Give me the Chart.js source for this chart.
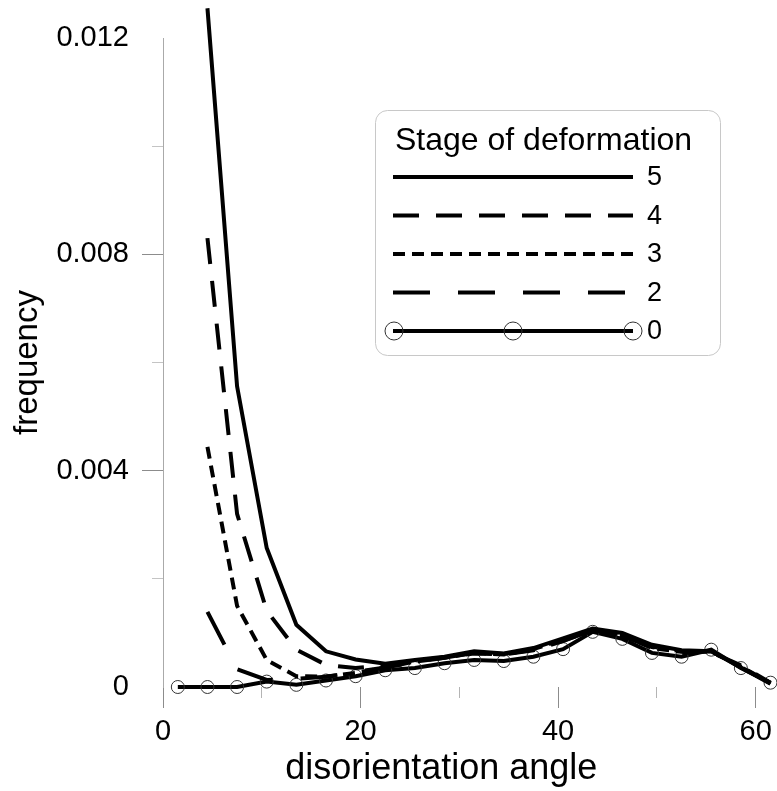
<!DOCTYPE html>
<html>
<head>
<meta charset="utf-8">
<script src="https://cdn.jsdelivr.net/npm/chart.js@4.4.0/dist/chart.umd.min.js"></script>
<style>
body { margin: 0; background: #fff; }
</style>
</head>
<body>
<canvas id="myChart" width="777" height="791"></canvas>
<script>
// disorientation angle bins
let angles = [1.5, 4.5, 7.5, 10.5, 13.5, 16.5, 19.5, 22.5, 25.5, 28.5, 31.5, 34.5, 37.5, 40.5, 43.5, 46.5, 49.5, 52.5, 55.5, 58.5, 61.5];

let stage5 = [null, 0.01255, 0.00556, 0.00257, 0.00115, 0.00066, 0.00051, 0.00043, 0.0005, 0.00056, 0.00066, 0.00062, 0.00072, 0.0009, 0.00108, 0.001, 0.00078, 0.00068, 0.00066, 0.00036, 0.00006];
let stage4 = [null, 0.0083, 0.0032, 0.00141, 0.00069, 0.00041, 0.00035, 0.0004, 0.00048, 0.00055, 0.00062, 0.0006, 0.00068, 0.00085, 0.00105, 0.00095, 0.00075, 0.00066, 0.00064, 0.0004, 0.00008];
let stage3 = [null, 0.00444, 0.0015, 0.0005, 0.0002, 0.00019, 0.00026, 0.00036, 0.00047, 0.00054, 0.00063, 0.0006, 0.0007, 0.00088, 0.00106, 0.00096, 0.00072, 0.00065, 0.00066, 0.00038, 0.00007];
let stage2 = [null, 0.00139, 0.00033, 0.00013, 0.00015, 0.00019, 0.00028, 0.00036, 0.00046, 0.00054, 0.00064, 0.00061, 0.00069, 0.00086, 0.00104, 0.00094, 0.00074, 0.00063, 0.00066, 0.00037, 0.00007];
let stage0 = [0, 0, 0, 0.0001, 0.00004, 0.00012, 0.0002, 0.00031, 0.00035, 0.00044, 0.0005, 0.00048, 0.00056, 0.0007, 0.00102, 0.00089, 0.00063, 0.00056, 0.00069, 0.00035, 0.00008];

let stageLabels = ['5', '4', '3', '2', '0'];
let legendTitle = 'Stage of deformation';

let fontFamily = '"Liberation Sans", Arial, sans-serif';
Chart.defaults.font.family = fontFamily;
Chart.defaults.color = '#000';

function points(values) {
    return angles.map((a, i) => ({ x: a, y: values[i] }));
}

function lineSet(label, values, dash) {
    return {
        label: label,
        data: points(values),
        borderColor: '#000',
        borderWidth: 4,
        borderDash: dash,
        borderCapStyle: 'butt',
        pointRadius: 0,
        pointHoverRadius: 0,
        tension: 0,
        clip: false
    };
}

// legend drawn inside the plot, like the original
let legendBox = {
    id: 'legendBox',
    afterDraw(chart) {
        let ctx = chart.ctx;
        ctx.save();
        ctx.beginPath();
        ctx.roundRect(375.5, 110.5, 345, 245, 12);
        ctx.fillStyle = '#fff';
        ctx.fill();
        ctx.strokeStyle = '#c8c8c8';
        ctx.lineWidth = 1;
        ctx.stroke();

        ctx.fillStyle = '#000';
        ctx.font = '32px ' + fontFamily;
        ctx.textBaseline = 'alphabetic';
        ctx.fillText(legendTitle, 395, 150);

        chart.data.datasets.forEach((ds, i) => {
            let y = 177 + i * 38.5;
            ctx.beginPath();
            ctx.setLineDash(ds.borderDash || []);
            ctx.lineWidth = ds.borderWidth;
            ctx.strokeStyle = ds.borderColor;
            ctx.lineCap = 'butt';
            ctx.moveTo(393, y);
            ctx.lineTo(633, y);
            ctx.stroke();
            ctx.setLineDash([]);
            if (ds.pointRadius > 0) {
                [394, 513, 633].forEach(cx => {
                    ctx.beginPath();
                    ctx.arc(cx, y, 9, 0, Math.PI * 2);
                    ctx.lineWidth = 1;
                    ctx.strokeStyle = ds.pointBorderColor;
                    ctx.stroke();
                });
            }
            ctx.fillStyle = '#000';
            ctx.font = '27px ' + fontFamily;
            ctx.textBaseline = 'middle';
            ctx.fillText(ds.label, 647, y + 1);
        });
        ctx.restore();
    }
};

let datasets = [
    lineSet(stageLabels[0], stage5, []),
    lineSet(stageLabels[1], stage4, [26, 17]),
    lineSet(stageLabels[2], stage3, [12, 7]),
    lineSet(stageLabels[3], stage2, [37, 28]),
    Object.assign(lineSet(stageLabels[4], stage0, []), {
        pointRadius: 6.5,
        pointBorderWidth: 1,
        pointBorderColor: '#333',
        pointBackgroundColor: 'rgba(0,0,0,0)'
    })
];

let myChart = document.getElementById('myChart').getContext('2d');

let chart = new Chart(myChart, {
    type: 'line',
    data: { datasets: datasets },
    options: {
        responsive: false,
        animation: false,
        devicePixelRatio: 1,
        layout: { padding: { top: 38, left: 0, right: 0, bottom: 0 } },
        plugins: {
            legend: { display: false },
            tooltip: { enabled: false }
        },
        scales: {
            x: {
                type: 'linear',
                min: 0,
                max: 61.4,
                border: { display: false },
                grid: {
                    drawOnChartArea: false,
                    tickLength: 21,
                    tickWidth: 1,
                    tickColor: c => (Math.round(c.tick.value) % 20 === 0 ? '#8c8c8c' : '#b4b4b4'),
                    tickBorderDash: c => (Math.round(c.tick.value) % 20 === 0 ? [] : [11, 50])
                },
                ticks: {
                    stepSize: 10,
                    includeBounds: false,
                    autoSkip: false,
                    maxRotation: 0,
                    padding: 7,
                    font: { size: 29 },
                    callback: v => (Math.round(v) % 20 === 0 ? String(Math.round(v)) : '')
                },
                title: {
                    display: true,
                    // trailing spaces nudge the centred title left, as in the original
                    text: 'disorientation angle\u00a0\u00a0\u00a0\u00a0\u00a0',
                    font: { size: 36 },
                    padding: { top: 0, bottom: 0 }
                },
                afterFit: s => { s.height = 104; s.paddingLeft = 0; s.paddingRight = 0; }
            },
            y: {
                min: 0,
                max: 0.012,
                border: { display: true, color: '#aaaaaa', width: 1 },
                grid: {
                    drawOnChartArea: false,
                    tickLength: 21,
                    tickWidth: 1,
                    tickColor: c => {
                        let k = Math.round(c.tick.value / 0.002);
                        if (k === 0 || k === 6) return 'rgba(0,0,0,0)';
                        return k % 2 === 0 ? '#8c8c8c' : '#c4c4c4';
                    },
                    tickBorderDash: c => (Math.round(c.tick.value / 0.002) % 2 === 0 ? [] : [0, 10, 11, 100])
                },
                ticks: {
                    stepSize: 0.002,
                    autoSkip: false,
                    padding: 13,
                    font: { size: 29 },
                    callback: v => {
                        let k = Math.round(v / 0.002);
                        if (k % 2 !== 0) return '';
                        return k === 0 ? '0' : (k * 0.002).toFixed(3);
                    }
                },
                title: {
                    display: true,
                    text: 'frequency',
                    font: { size: 33 },
                    padding: { top: 8, bottom: 0 }
                },
                afterFit: s => { s.width = 163; s.paddingTop = 0; s.paddingBottom = 0; }
            }
        }
    },
    plugins: [legendBox]
});
</script>
</body>
</html>
